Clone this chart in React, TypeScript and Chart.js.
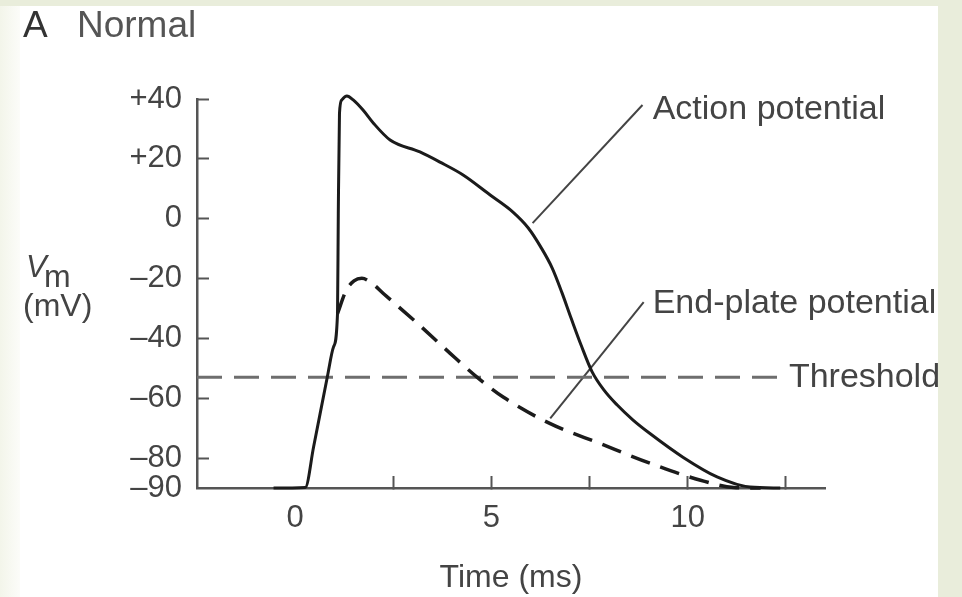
import React, { useEffect, useRef } from 'react';
import { Chart, registerables } from 'chart.js';

Chart.register(...registerables);

const FONT = '"Liberation Sans", Arial, Helvetica, sans-serif';

// Action potential (time in ms, Vm in mV)
const apTime = [-0.55, 0.26, 0.47, 0.82, 0.98, 1.08, 1.1, 1.13, 1.19, 1.32, 1.48, 1.73, 1.99, 2.42, 3.18, 3.69, 4.28, 4.97, 5.55, 5.94, 6.26, 6.55, 6.8, 7.03, 7.29, 7.56, 7.87, 8.2, 8.61, 9.04, 9.88, 10.75, 11.59, 12.36];
const apVm = [-90, -89.8, -76.3, -52.9, -42.8, -31.7, 1.8, 35.2, 39.7, 41, 39.7, 36.3, 32, 26.3, 22.3, 18.9, 14.6, 7.9, 2.2, -3.1, -9.5, -16.5, -24.8, -33.2, -42.4, -51, -57.3, -62.2, -67.3, -71.8, -79.7, -86.3, -89.7, -90];

// End-plate potential
const eppTime = [1.08, 1.3, 1.5, 1.7, 1.95, 2.24, 3.11, 3.95, 4.64, 5.31, 6.5, 7.78, 9.06, 10.33, 11.17, 11.86];
const eppVm = [-31.7, -24, -20.8, -19.9, -21.5, -24.9, -34.9, -45, -53, -59.7, -68.5, -75.2, -81.8, -87.4, -89.8, -90];

// Threshold
const thresholdVm = -53;
const thresholdTime = [-2.5, 12.37];

// Leader lines (label pointers)
const apLeaderTime = [6.05, 8.85];
const apLeaderVm = [-1.5, 38];
const eppLeaderTime = [6.5, 8.88];
const eppLeaderVm = [-66.7, -27.9];

// Ticks
const xTickValues = [0, 2.5, 5, 7.5, 10, 12.5];
const xTickLabels = ['0', '', '5', '', '10', ''];
const yTickValues = [40, 20, 0, -20, -40, -60, -80, -90];
const yTickLabels = ['+40', '+20', '0', '–20', '–40', '–60', '–80', '–90'];

// Annotation labels (anchored in data units)
const annotationTexts = ['Action potential', 'End-plate potential', 'Threshold'];
const annotationTime = [9.11, 9.11, 12.58];
const annotationVm = [33.3, -31.6, -56.3];

const zip = (xs: number[], ys: number[]) => xs.map((x, i) => ({ x, y: ys[i] }));

const textPlugin = {
  id: 'figureTexts',
  afterDatasetsDraw(chart: any) {
    const { ctx, scales } = chart;
    const xs = scales.x;
    const ys = scales.y;
    ctx.save();
    ctx.textAlign = 'left';
    ctx.textBaseline = 'alphabetic';
    ctx.fillStyle = '#444';
    ctx.font = `34px ${FONT}`;
    annotationTexts.forEach((t, i) => {
      ctx.fillText(t, xs.getPixelForValue(annotationTime[i]), ys.getPixelForValue(annotationVm[i]));
    });
    // y-axis title: V_m (mV)
    ctx.font = `italic 31px ${FONT}`;
    ctx.fillText('V', 6, 271);
    ctx.font = `32px ${FONT}`;
    ctx.fillText('m', 24, 281);
    ctx.fillText('(mV)', 3, 310);
    // panel title
    ctx.font = `37px ${FONT}`;
    ctx.fillStyle = '#333';
    ctx.fillText('A', 3, 31);
    ctx.fillStyle = '#555';
    ctx.fillText('Normal', 57, 31);
    ctx.restore();
  },
};

export default function App() {
  const ref = useRef<HTMLCanvasElement>(null);
  useEffect(() => {
    const line = (data: any[], extra: any) => ({
      data,
      pointRadius: 0,
      pointHoverRadius: 0,
      fill: false,
      clip: false,
      borderCapStyle: 'butt',
      ...extra,
    });
    const chart = new Chart(ref.current as HTMLCanvasElement, {
      type: 'line',
      data: {
        datasets: [
          line(zip(apTime, apVm), { label: 'Action potential', borderColor: '#1b1b1b', borderWidth: 3, cubicInterpolationMode: 'monotone' }),
          line(zip(eppTime, eppVm), { label: 'End-plate potential', borderColor: '#1b1b1b', borderWidth: 3.5, borderDash: [20, 11], cubicInterpolationMode: 'monotone' }),
          line(zip(thresholdTime, thresholdTime.map(() => thresholdVm)), { label: 'Threshold', borderColor: '#6e6e6e', borderWidth: 3, borderDash: [25, 12] }),
          line(zip(apLeaderTime, apLeaderVm), { label: 'ap-leader', borderColor: '#444', borderWidth: 2 }),
          line(zip(eppLeaderTime, eppLeaderVm), { label: 'epp-leader', borderColor: '#444', borderWidth: 2 }),
        ],
      },
      options: {
        animation: false,
        responsive: false,
        maintainAspectRatio: false,
        events: [],
        layout: { padding: { left: 57, right: 113, top: 93, bottom: 0 } },
        plugins: { legend: { display: false }, tooltip: { enabled: false }, title: { display: false } },
        scales: {
          x: {
            type: 'linear',
            min: -2.5,
            max: 13.5,
            afterBuildTicks: (s: any) => { s.ticks = xTickValues.map((v) => ({ value: v })); },
            afterFit: (s: any) => { s.height = 109; },
            ticks: {
              autoSkip: false,
              maxRotation: 0,
              padding: 24,
              color: '#444',
              font: { family: FONT, size: 31 },
              callback: (v: any) => { const i = xTickValues.indexOf(Number(v)); return i >= 0 ? xTickLabels[i] : ''; },
            },
            grid: {
              drawOnChartArea: false,
              drawTicks: true,
              tickLength: -12,
              tickWidth: 2,
              tickColor: (c: any) => (c.tick && c.tick.value === 0 ? 'rgba(0,0,0,0)' : '#555'),
            },
            border: { display: true, color: '#555', width: 2.5 },
            title: { display: true, text: 'Time (ms)', color: '#444', font: { family: FONT, size: 32 }, padding: { top: 0, bottom: 0 } },
          },
          y: {
            type: 'linear',
            min: -90,
            max: 40,
            afterBuildTicks: (s: any) => { s.ticks = yTickValues.map((v) => ({ value: v })); },
            afterFit: (s: any) => { s.width = 120; },
            ticks: {
              autoSkip: false,
              padding: 27,
              color: '#444',
              font: { family: FONT, size: 31 },
              callback: (v: any) => { const i = yTickValues.indexOf(Number(v)); return i >= 0 ? yTickLabels[i] : ''; },
            },
            grid: {
              drawOnChartArea: false,
              drawTicks: true,
              tickLength: -12,
              tickWidth: 2,
              tickColor: (c: any) => (c.tick && c.tick.value === -90 ? 'rgba(0,0,0,0)' : '#555'),
            },
            border: { display: true, color: '#555', width: 2.5 },
            title: { display: false },
          },
        },
      },
      plugins: [textPlugin],
    } as any);
    return () => chart.destroy();
  }, []);

  return (
    <div style={{ position: 'fixed', left: 0, top: 0, width: 962, height: 597, background: '#e9eddb', overflow: 'hidden' }}>
      <div style={{ position: 'absolute', left: 0, top: 6, width: 20, height: 591, background: 'linear-gradient(to right, #f3f5ea, #fcfcf9)' }} />
      <div style={{ position: 'absolute', left: 20, top: 6, width: 918, height: 591, background: '#ffffff' }}>
        <canvas ref={ref} width={918} height={591} style={{ display: 'block', width: 918, height: 591 }} />
      </div>
    </div>
  );
}
